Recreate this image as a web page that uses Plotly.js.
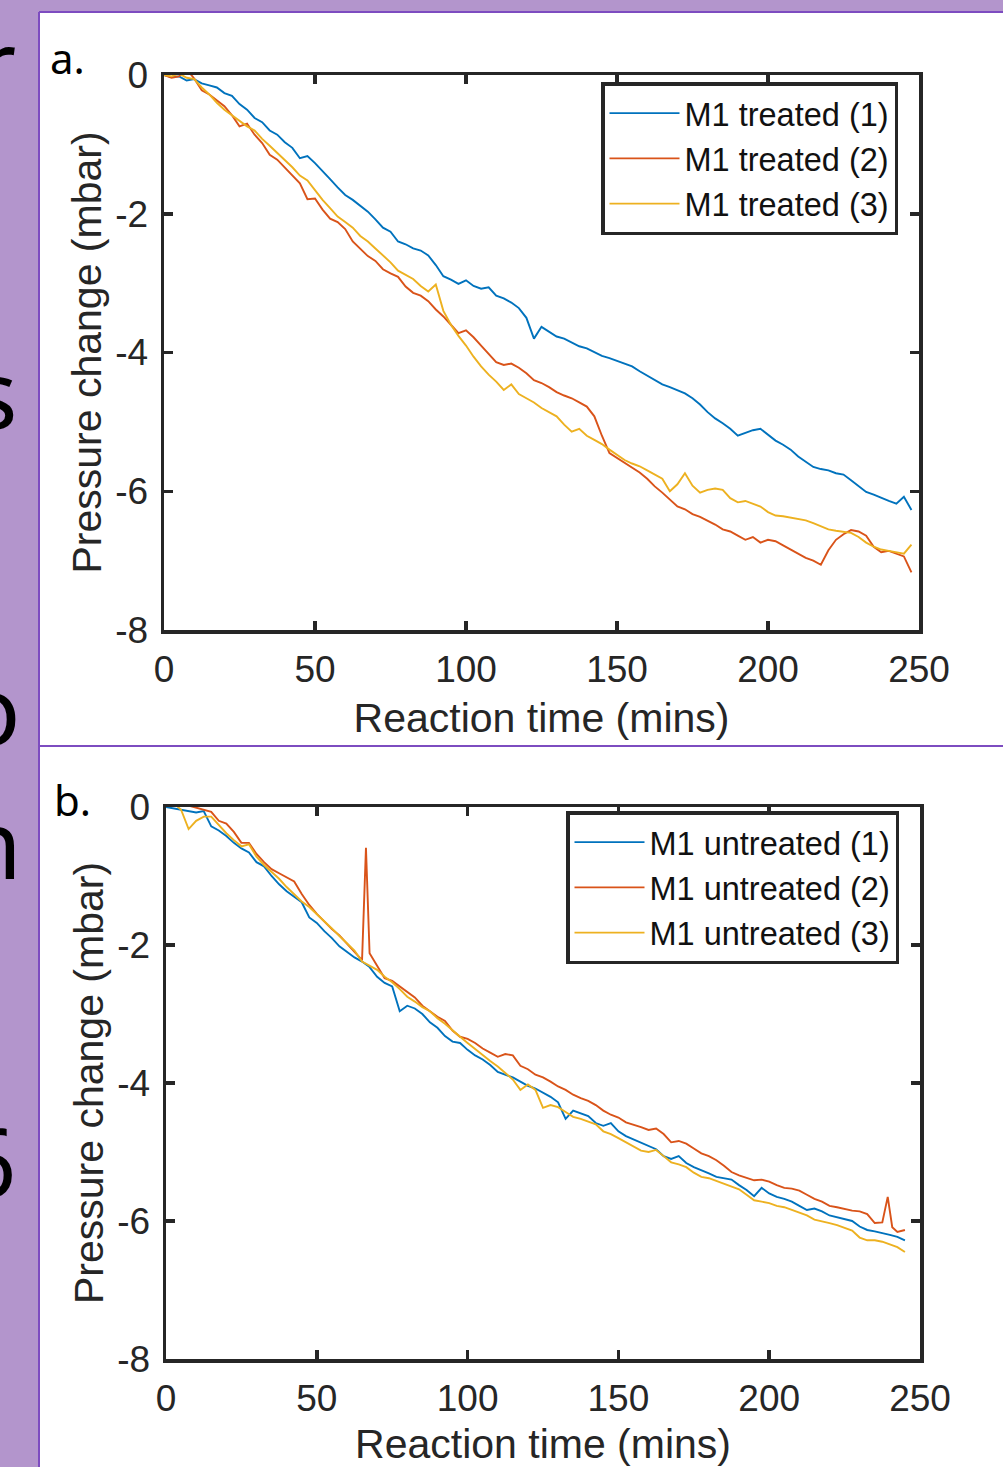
<!DOCTYPE html>
<html><head><meta charset="utf-8">
<script src="https://cdn.plot.ly/plotly-3.0.1.min.js"></script>
<style>html,body{margin:0;padding:0;background:#b395cc;} #chart{width:1003px;height:1467px;}</style>
</head><body><div id="chart"></div>
<script>
// ---------- DATA ----------
const xTitle = 'Reaction time (mins)';
const yTitle = 'Pressure change (mbar)';
const xTickVals = [0, 50, 100, 150, 200, 250];
const xTickText = ['0', '50', '100', '150', '200', '250'];
const yTickVals = [-8, -6, -4, -2, 0];
const yTickText = ['-8', '-6', '-4', '-2', '0'];
const namesA = ['M1 treated (1)', 'M1 treated (2)', 'M1 treated (3)'];
const namesB = ['M1 untreated (1)', 'M1 untreated (2)', 'M1 untreated (3)'];
const panelLabels = ['a.', 'b.'];
const sideLetters = ['r', 's', 'o', 'n', '6'];

const tA = [0,2.5,5,7.5,10,12.5,15,17.5,20,22.5,25,27.5,30,32.5,35,37.5,40,42.5,45,47.5,50,52.5,55,57.5,60,62.5,65,67.5,70,72.5,75,77.5,80,82.5,85,87.5,90,92.5,95,97.5,100,102.5,105,107.5,110,112.5,115,117.5,120,122.5,125,127.5,130,132.5,135,137.5,140,142.5,145,147.5,150,152.5,155,157.5,160,162.5,165,167.5,170,172.5,175,177.5,180,182.5,185,187.5,190,192.5,195,197.5,200,202.5,205,207.5,210,212.5,215,217.5,220,222.5,225,227.5,230,232.5,235,237.5,240,242.5,245,247.5];

const treated1 = [0.00,-0.03,-0.02,-0.08,-0.06,-0.12,-0.15,-0.18,-0.26,-0.30,
-0.42,-0.50,-0.62,-0.68,-0.80,-0.86,-0.97,-1.05,-1.20,-1.17,
-1.27,-1.38,-1.50,-1.62,-1.73,-1.80,-1.88,-1.97,-2.08,-2.20,
-2.26,-2.40,-2.44,-2.50,-2.53,-2.60,-2.74,-2.90,-2.95,-3.01,
-2.96,-3.04,-3.08,-3.06,-3.18,-3.22,-3.28,-3.36,-3.50,-3.80,
-3.63,-3.70,-3.77,-3.80,-3.86,-3.91,-3.94,-4.00,-4.05,-4.08,
-4.12,-4.17,-4.20,-4.27,-4.33,-4.40,-4.46,-4.50,-4.55,-4.59,
-4.66,-4.75,-4.86,-4.95,-5.02,-5.10,-5.20,-5.16,-5.12,-5.10,
-5.18,-5.27,-5.33,-5.40,-5.50,-5.58,-5.65,-5.68,-5.70,-5.74,
-5.76,-5.84,-5.93,-6.01,-6.05,-6.10,-6.14,-6.18,-6.08,-6.27];

const treated2 = [0.00,-0.04,-0.02,0.08,-0.05,-0.22,-0.28,-0.36,-0.45,-0.58,
-0.74,-0.70,-0.86,-0.98,-1.15,-1.22,-1.33,-1.45,-1.56,-1.79,
-1.78,-1.94,-2.07,-2.12,-2.22,-2.40,-2.50,-2.61,-2.68,-2.80,
-2.86,-2.91,-3.05,-3.14,-3.18,-3.26,-3.38,-3.48,-3.60,-3.72,
-3.68,-3.78,-3.90,-4.02,-4.14,-4.18,-4.16,-4.22,-4.30,-4.40,
-4.44,-4.50,-4.57,-4.62,-4.66,-4.72,-4.78,-4.92,-5.20,-5.45,
-5.52,-5.58,-5.66,-5.73,-5.82,-5.93,-6.02,-6.12,-6.22,-6.26,
-6.33,-6.37,-6.42,-6.48,-6.55,-6.58,-6.64,-6.70,-6.66,-6.74,
-6.70,-6.72,-6.78,-6.84,-6.90,-6.96,-7.00,-7.06,-6.85,-6.70,
-6.62,-6.56,-6.58,-6.64,-6.80,-6.88,-6.86,-6.90,-6.94,-7.17];

const treated3 = [0.00,-0.02,0.02,-0.04,-0.06,-0.18,-0.28,-0.40,-0.50,-0.58,
-0.66,-0.74,-0.80,-0.92,-1.02,-1.12,-1.22,-1.33,-1.45,-1.52,
-1.66,-1.80,-1.92,-2.04,-2.12,-2.20,-2.32,-2.40,-2.50,-2.60,
-2.70,-2.82,-2.88,-2.94,-3.04,-3.12,-3.02,-3.40,-3.60,-3.76,
-3.90,-4.06,-4.20,-4.32,-4.42,-4.54,-4.46,-4.60,-4.66,-4.72,
-4.80,-4.86,-4.92,-5.04,-5.14,-5.10,-5.20,-5.26,-5.32,-5.40,
-5.48,-5.55,-5.60,-5.64,-5.70,-5.76,-5.82,-6.00,-5.90,-5.74,
-5.92,-6.02,-5.98,-5.96,-5.98,-6.10,-6.16,-6.14,-6.18,-6.22,
-6.30,-6.35,-6.36,-6.38,-6.40,-6.42,-6.46,-6.50,-6.55,-6.57,
-6.58,-6.60,-6.66,-6.74,-6.80,-6.84,-6.86,-6.88,-6.90,-6.77];

const tB = [0,2.5,5,7.5,10,12.5,15,17.5,20,22.5,25,27.5,30,32.5,35,37.5,40,42.5,45,47.5,50,52.5,55,57.5,60,62.5,65,67.5,70,72.5,75,77.5,80,82.5,85,87.5,90,92.5,95,97.5,100,102.5,105,107.5,110,112.5,115,117.5,120,122.5,125,127.5,130,132.5,135,137.5,140,142.5,145,147.5,150,152.5,155,157.5,160,162.5,165,167.5,170,172.5,175,177.5,180,182.5,185,187.5,190,192.5,195,197.5,200,202.5,205,207.5,210,212.5,215,217.5,220,222.5,225,227.5,230,232.5,235,237.5,240,242.5,245];

const untreated1 = [0.00,-0.02,-0.03,-0.06,-0.08,-0.06,-0.28,-0.34,-0.42,-0.52,
-0.60,-0.66,-0.80,-0.86,-1.00,-1.12,-1.22,-1.30,-1.38,-1.60,
-1.68,-1.80,-1.90,-2.02,-2.10,-2.18,-2.24,-2.32,-2.46,-2.55,
-2.60,-2.96,-2.88,-2.92,-3.00,-3.12,-3.20,-3.32,-3.40,-3.42,
-3.52,-3.60,-3.66,-3.74,-3.84,-3.88,-3.92,-3.98,-4.04,-4.08,
-4.14,-4.20,-4.28,-4.52,-4.40,-4.44,-4.48,-4.58,-4.62,-4.58,
-4.70,-4.77,-4.82,-4.87,-4.91,-4.96,-5.06,-5.10,-5.06,-5.16,
-5.22,-5.26,-5.31,-5.36,-5.38,-5.40,-5.48,-5.55,-5.64,-5.52,
-5.60,-5.65,-5.68,-5.72,-5.78,-5.84,-5.82,-5.86,-5.92,-5.95,
-5.97,-6.00,-6.08,-6.13,-6.15,-6.17,-6.20,-6.23,-6.28];

const tB2 = [0,2.5,5,7.5,10,12.5,15,17.5,20,22.5,25,27.5,30,32.5,35,37.5,40,42.5,45,47.5,50,52.5,55,57.5,60,62.5,65,66.3,67.5,70,72.5,75,77.5,80,82.5,85,87.5,90,92.5,95,97.5,100,102.5,105,107.5,110,112.5,115,117.5,120,122.5,125,127.5,130,132.5,135,137.5,140,142.5,145,147.5,150,152.5,155,157.5,160,162.5,165,167.5,170,172.5,175,177.5,180,182.5,185,187.5,190,192.5,195,197.5,200,202.5,205,207.5,210,212.5,215,217.5,220,222.5,225,227.5,230,232.5,235,237.5,239.3,240.8,242.5,245];

const untreated2 = [0.02,0.06,0.10,0.02,-0.01,-0.04,-0.07,-0.20,-0.24,-0.36,
-0.52,-0.52,-0.68,-0.80,-0.90,-0.96,-1.02,-1.08,-1.26,-1.42,
-1.55,-1.66,-1.77,-1.86,-1.98,-2.10,-2.22,
-0.59,
-2.12,-2.30,-2.48,-2.52,-2.60,-2.68,-2.76,-2.88,-2.96,-3.04,
-3.10,-3.24,-3.33,-3.36,-3.42,-3.50,-3.56,-3.62,-3.58,-3.60,
-3.75,-3.80,-3.88,-3.92,-3.98,-4.05,-4.10,-4.17,-4.22,-4.26,
-4.32,-4.40,-4.46,-4.50,-4.57,-4.60,-4.64,-4.68,-4.66,-4.74,
-4.86,-4.84,-4.88,-4.95,-5.02,-5.06,-5.12,-5.20,-5.29,-5.34,
-5.38,-5.41,-5.40,-5.43,-5.48,-5.52,-5.53,-5.56,-5.62,-5.68,
-5.72,-5.78,-5.80,-5.83,-5.85,-5.86,-5.90,-6.03,-6.02,
-5.65,-6.09,-6.16,-6.13];

const untreated3 = [0.10,0.06,-0.04,-0.32,-0.20,-0.14,-0.14,-0.26,-0.38,-0.48,
-0.57,-0.54,-0.72,-0.84,-0.94,-1.04,-1.16,-1.26,-1.37,-1.45,
-1.55,-1.65,-1.76,-1.87,-1.97,-2.08,-2.24,-2.30,-2.36,-2.46,
-2.54,-2.64,-2.75,-2.82,-2.90,-2.96,-3.06,-3.14,-3.24,-3.33,
-3.42,-3.51,-3.60,-3.68,-3.76,-3.86,-3.95,-4.10,-4.02,-4.10,
-4.36,-4.32,-4.35,-4.42,-4.49,-4.52,-4.56,-4.60,-4.70,-4.74,
-4.80,-4.86,-4.92,-4.98,-5.00,-4.97,-5.06,-5.15,-5.18,-5.22,
-5.30,-5.36,-5.38,-5.42,-5.45,-5.50,-5.54,-5.62,-5.70,-5.72,
-5.74,-5.78,-5.80,-5.84,-5.88,-5.92,-5.98,-6.00,-6.03,-6.06,
-6.10,-6.14,-6.24,-6.28,-6.28,-6.30,-6.34,-6.38,-6.45];

// ---------- STYLE ----------
const W = 1003, H = 1467;
const fx = p => p / W;
const fy = p => 1 - p / H;
const colors = ['#0072BD', '#D95319', '#EDB120'];
const ink = '#262626';
const FONT = '"Liberation Sans", Arial, Helvetica, sans-serif';
const tickFont = {family: FONT, size: 37, color: ink};
const titleFont = {family: FONT, size: 41, color: ink};

function xAxis(domain, anchor) {
  return {domain: domain, anchor: anchor, range: [0, 250], tickmode: 'array', tickvals: xTickVals, ticktext: xTickText,
    ticks: 'inside', ticklen: 9, tickwidth: 3.5, tickcolor: ink, showline: true, linewidth: 3.5, linecolor: ink,
    mirror: 'ticks', showgrid: false, zeroline: false, tickfont: tickFont, ticklabelstandoff: 4,
    title: {text: xTitle, font: titleFont, standoff: 15}, automargin: false, fixedrange: true};
}
function yAxis(domain, anchor) {
  return {domain: domain, anchor: anchor, range: [-8, 0], tickmode: 'array', tickvals: yTickVals, ticktext: yTickText,
    ticks: 'inside', ticklen: 9, tickwidth: 3.5, tickcolor: ink, showline: true, linewidth: 3.5, linecolor: ink,
    mirror: 'ticks', showgrid: false, zeroline: false, tickfont: tickFont, ticklabelstandoff: 5,
    title: {text: yTitle, font: titleFont, standoff: 2}, automargin: false, fixedrange: true};
}

const traces = [];
const seriesA = [treated1, treated2, treated3];
seriesA.forEach((ys, i) => traces.push({x: tA, y: ys, name: namesA[i], type: 'scatter', mode: 'lines',
  line: {color: colors[i], width: 1.9}, xaxis: 'x', yaxis: 'y', legend: 'legend'}));
const seriesB = [[tB, untreated1], [tB2, untreated2], [tB, untreated3]];
seriesB.forEach((p, i) => traces.push({x: p[0], y: p[1], name: namesB[i], type: 'scatter', mode: 'lines',
  line: {color: colors[i], width: 1.9}, xaxis: 'x2', yaxis: 'y2', legend: 'legend2'}));

const legendStyle = {bgcolor: 'white', bordercolor: ink, borderwidth: 3.5, xanchor: 'left', yanchor: 'top',
  font: {family: FONT, size: 32.5, color: '#111'}, itemwidth: 70, tracegroupgap: 0};

const purpleDark = '#7d4cc0';
const shapes = [
  {type: 'rect', xref: 'paper', yref: 'paper', x0: fx(39), x1: 1.01, y0: fy(12), y1: fy(745), fillcolor: 'white', line: {width: 0}, layer: 'below'},
  {type: 'rect', xref: 'paper', yref: 'paper', x0: fx(39), x1: 1.01, y0: fy(747), y1: -0.01, fillcolor: 'white', line: {width: 0}, layer: 'below'},
  {type: 'line', xref: 'paper', yref: 'paper', x0: fx(39), x1: fx(39), y0: fy(12), y1: 0, line: {color: purpleDark, width: 2}, layer: 'below'},
  {type: 'line', xref: 'paper', yref: 'paper', x0: fx(39), x1: 1.01, y0: fy(12), y1: fy(12), line: {color: purpleDark, width: 2}, layer: 'below'},
  {type: 'line', xref: 'paper', yref: 'paper', x0: fx(39), x1: 1.01, y0: fy(746), y1: fy(746), line: {color: purpleDark, width: 2}, layer: 'below'}
];

const annotations = [
  {text: panelLabels[0], xref: 'paper', yref: 'paper', x: fx(48), y: fy(58), xanchor: 'left', yanchor: 'middle', showarrow: false,
    font: {family: 'Noto Sans, sans-serif', size: 42, color: '#000'}},
  {text: panelLabels[1], xref: 'paper', yref: 'paper', x: fx(52), y: fy(799), xanchor: 'left', yanchor: 'middle', showarrow: false,
    font: {family: 'Noto Sans, sans-serif', size: 42, color: '#000'}}
];
const letterPos = [[18, 62], [20, 392], [22, 708], [24, 842], [18, 1160]];
sideLetters.forEach((ch, i) => annotations.push({text: ch, xref: 'paper', yref: 'paper', x: fx(letterPos[i][0]), y: fy(letterPos[i][1]),
  xanchor: 'right', yanchor: 'middle', showarrow: false, font: {family: 'Noto Sans, sans-serif', size: 95, color: '#000'}}));

const layout = {
  width: W, height: H, margin: {l: 0, r: 0, t: 0, b: 0},
  paper_bgcolor: '#b395cc', plot_bgcolor: 'white', font: {family: FONT, color: ink},
  xaxis: xAxis([fx(164), fx(919)], 'y'),
  yaxis: yAxis([fy(630), fy(75)], 'x'),
  xaxis2: xAxis([fx(166), fx(920)], 'y2'),
  yaxis2: yAxis([fy(1359), fy(807)], 'x2'),
  legend: Object.assign({x: fx(601), y: fy(82)}, legendStyle),
  legend2: Object.assign({x: fx(566), y: fy(811)}, legendStyle),
  shapes: shapes, annotations: annotations, showlegend: true
};

Plotly.newPlot('chart', traces, layout, {staticPlot: true, displayModeBar: false});
</script></body></html>
